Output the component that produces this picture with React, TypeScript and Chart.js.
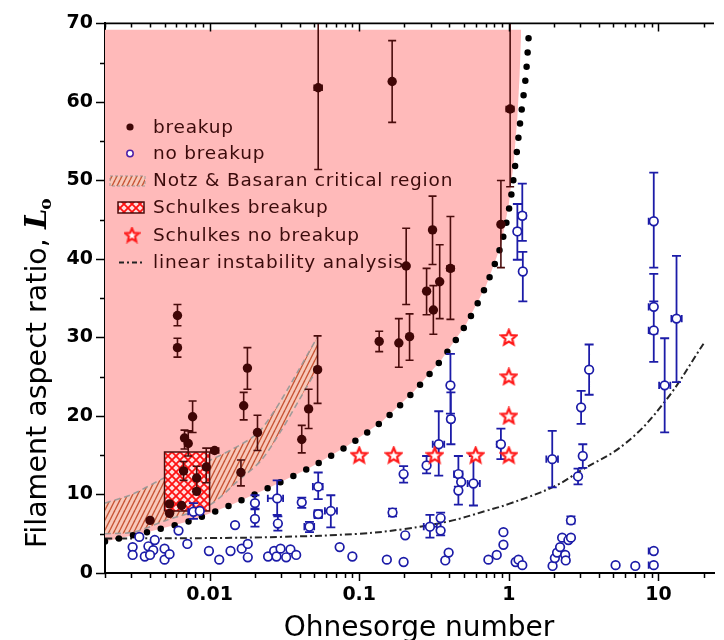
import React, { useEffect, useRef } from 'react';
import { Chart, registerables } from 'chart.js';

Chart.register(...registerables);

// ---------- axes ----------
const X_MIN = 0.002;
const X_MAX = 23.5;
const Y_MIN = 0;
const Y_MAX = 70;
const Y_STEP = 10;
const X_MAJOR_TICKS = [0.01, 0.1, 1, 10];
const X_TICK_LABELS = ['0.01', '0.1', '1', '10'];
const X_TITLE = 'Ohnesorge number';
const Y_TITLE = 'Filament aspect ratio, ';
const Y_TITLE_SYMBOL = 'L';
const Y_TITLE_SUB = 'o';

const LEGEND_LABELS = [
  'breakup',
  'no breakup',
  'Notz & Basaran critical region',
  'Schulkes breakup',
  'Schulkes no breakup',
  'linear instability analysis',
];

// ---------- breakup (filled) ----------
const breakupX = [0.0061, 0.0061, 0.0077, 0.0068, 0.0072, 0.0108, 0.0095, 0.0082, 0.0067, 0.0082, 0.0054, 0.0054, 0.0065, 0.0040, 0.0179, 0.0169, 0.0209, 0.0162, 0.0413, 0.0459, 0.0527, 0.136, 0.184, 0.217, 0.313, 0.206, 0.309, 0.282, 0.345, 0.407, 0.0532, 0.166, 1.02, 0.885];
const breakupY = [32.8, 28.7, 19.9, 17.2, 16.5, 15.6, 13.5, 12.1, 13.0, 10.4, 8.8, 7.6, 8.6, 6.7, 26.1, 21.3, 17.9, 12.8, 17.0, 20.9, 25.9, 29.5, 29.3, 30.1, 33.5, 39.1, 43.7, 35.9, 37.1, 38.8, 61.8, 62.6, 59.1, 44.4];
const breakupYLow = [31.5, 27.5, 17.9, 15.8, 14.9, null, 11.5, 10.7, 11.8, null, null, null, null, null, 23.4, 19.5, 15.6, 11.1, 15.3, 18.4, 21.6, 28.2, 26.2, 27.1, 30.4, 34.2, 39.3, 32.9, 32.4, 32.3, 51.4, 57.4, 49.2, 38.9];
const breakupYHigh = [34.2, 29.9, 21.9, 18.2, 18.1, null, 15.9, 13.6, 14.2, null, null, null, null, null, 28.7, 23.0, 20.1, 14.4, 18.8, 23.4, 30.2, 30.8, 32.4, 33.0, 36.6, 43.9, 48.0, 38.8, 41.8, 45.4, 72, 67.8, 72, 50.0];
const breakupXLow = [null, null, null, null, null, 0.0102, null, null, null, null, null, null, null, null, null, null, null, null, null, null, null, null, null, null, null, null, null, null, null, 0.385, 0.050, null, 0.96, null];
const breakupXHigh = [null, null, null, null, null, 0.0115, null, null, null, null, null, null, null, null, null, null, null, null, null, null, null, null, null, null, null, null, null, null, null, 0.43, 0.0565, null, 1.08, null];

// ---------- no breakup (open) with error bars ----------
const noBreakupErrX = [1.23, 1.14, 1.24, 9.3, 9.3, 9.3, 13.2, 11.0, 3.44, 3.04, 3.12, 2.90, 1.95, 0.885, 0.407, 0.41, 0.34, 0.282, 0.198, 0.46, 0.48, 0.46, 0.58, 0.0532, 0.0646, 0.0413, 0.0465, 0.0532, 0.297, 0.35, 0.35, 0.0201, 0.0201, 0.0283, 0.0286, 0.0078, 0.0086, 0.167, 0.203, 2.6, 9.3, 9.3];
const noBreakupErrY = [45.5, 43.5, 38.4, 44.8, 33.9, 30.9, 32.4, 23.9, 25.9, 21.1, 14.9, 12.3, 14.5, 16.4, 23.9, 19.6, 16.4, 13.7, 12.6, 12.6, 11.6, 10.5, 11.4, 11.0, 7.9, 9.0, 5.9, 7.5, 5.9, 7.0, 5.4, 8.9, 6.9, 9.5, 6.3, 7.8, 7.9, 7.7, 4.8, 6.7, 2.8, 1.0];
const noBreakupYLow = [42.3, 39.9, 34.6, 38.9, 30.5, 26.9, 24.3, 17.9, 22.7, 19.0, 13.4, 11.3, 10.9, 14.5, 20.3, 16.4, 12.4, 12.7, 11.5, 11.0, null, 8.7, 8.6, 9.4, 5.8, 8.3, 5.2, 7.0, 4.5, 4.8, null, 8.1, 5.9, 7.4, 5.4, 6.9, null, 7.2, null, 6.3, null, null];
const noBreakupYHigh = [49.6, 47.0, 40.9, 51.0, 38.1, 34.6, 40.4, 29.9, 29.1, 23.2, 16.4, 13.3, 18.1, 18.4, 27.9, 23.0, 20.6, 14.9, 13.6, 14.9, null, 12.2, 14.9, 12.8, 9.9, 9.6, 6.5, 8.0, 7.4, 7.7, null, 9.9, 8.2, 11.8, 7.2, 8.9, null, 8.2, null, 7.2, null, null];
const noBreakupXLow = [1.17, 1.09, null, 8.6, 8.6, 8.6, 12.2, 10.1, 3.3, null, null, null, 1.78, 0.83, 0.39, 0.39, 0.31, null, null, 0.43, null, null, 0.53, 0.049, 0.059, null, 0.043, 0.05, 0.27, null, null, null, null, 0.0245, null, 0.0072, null, null, null, null, 8.6, 8.6];
const noBreakupXHigh = [1.30, 1.19, null, 9.3, 9.3, 9.3, 14.3, 12.0, 3.6, null, null, null, 2.13, 0.89, 0.425, 0.43, 0.37, null, null, 0.49, null, null, 0.64, 0.057, 0.071, null, 0.050, 0.0565, 0.33, null, null, null, null, 0.031, null, 0.0085, null, null, null, null, 9.3, 9.3];

// ---------- no breakup (open) without error bars ----------
const noBreakupPlainX = [0.00339, 0.00306, 0.00306, 0.00369, 0.0039, 0.0043, 0.0042, 0.0040, 0.0050, 0.0050, 0.0054, 0.0062, 0.0071, 0.0099, 0.0116, 0.0138, 0.0148, 0.0164, 0.018, 0.018, 0.0246, 0.027, 0.028, 0.0298, 0.0325, 0.0347, 0.0379, 0.074, 0.090, 0.153, 0.198, 0.376, 0.396, 0.73, 0.83, 0.92, 0.92, 1.11, 1.16, 1.23, 1.96, 2.03, 2.1, 2.2, 2.27, 2.5, 2.6, 2.38, 2.4, 5.17, 7.0];
const noBreakupPlainY = [4.6, 3.3, 2.3, 2.1, 3.4, 4.2, 2.9, 2.3, 3.1, 1.7, 2.4, 5.4, 3.7, 2.8, 1.7, 2.8, 6.1, 3.1, 3.7, 2.0, 2.1, 2.8, 2.1, 3.1, 2.0, 3.0, 2.3, 3.3, 2.1, 1.7, 1.4, 1.6, 2.6, 1.7, 2.3, 3.6, 5.2, 1.4, 1.7, 1.0, 0.9, 1.9, 2.6, 3.3, 4.5, 4.2, 4.5, 2.3, 1.6, 1.0, 0.9];

// ---------- Schulkes no breakup (stars) ----------
const schulkesNoX = [0.1, 0.17, 0.32, 0.6, 1.0, 1.0, 1.0, 1.0];
const schulkesNoY = [15, 15, 15, 15, 15, 20, 25, 30];

// ---------- Schulkes breakup box ----------
const schulkesBoxX = [0.005, 0.01];
const schulkesBoxY = [7.9, 15.4];

// ---------- Notz & Basaran band ----------
const notzUpperX = [0.002, 0.0031, 0.0051, 0.0099, 0.020, 0.027, 0.039, 0.0527];
const notzUpperY = [8.9, 10.1, 12.2, 14.3, 17.5, 20.6, 25.7, 30.1];
const notzLowerX = [0.002, 0.0031, 0.0051, 0.0099, 0.0156, 0.022, 0.030, 0.041, 0.0527];
const notzLowerY = [5.0, 5.2, 6.7, 8.6, 11.8, 14.3, 18.1, 22.5, 26.1];

// ---------- breakup boundary (dotted) and shaded region ----------
const boundaryX = [0.002, 0.004, 0.0076, 0.014, 0.0258, 0.0467, 0.082, 0.142, 0.231, 0.355, 0.519, 0.704, 0.885, 1.016, 1.112, 1.20, 1.30, 1.37];
const boundaryY = [4.0, 5.3, 6.7, 8.7, 11.0, 13.4, 16.1, 19.3, 23.1, 27.2, 31.7, 36.6, 41.7, 47.0, 52.5, 58.0, 63.4, 69.6];
const regionX = [0.002, 0.004, 0.0076, 0.014, 0.0258, 0.0467, 0.082, 0.142, 0.231, 0.355, 0.519, 0.704, 0.885, 1.0, 1.08, 1.14, 1.18, 1.21];
const regionY = [4.0, 5.3, 6.7, 8.7, 11.0, 13.4, 16.1, 19.3, 23.1, 27.2, 31.7, 36.6, 41.7, 47.0, 52.5, 58.0, 63.4, 69.2];
const REGION_TOP = 69.2;

// ---------- linear instability analysis ----------
const linearX = [0.002, 0.01, 0.03, 0.1, 0.2, 0.4, 0.7, 1.0, 2.0, 3.0, 6.0, 11.0, 20.0];
const linearY = [4.4, 4.45, 4.6, 5.0, 5.6, 6.6, 7.9, 8.8, 11.0, 13.0, 16.5, 21.8, 29.2];

const toXY = (xs: number[], ys: number[]) => xs.map((x, i) => ({ x, y: ys[i] }));

const COLORS = {
  breakup: '#400606',
  breakupErr: '#4a0c0c',
  noBreakup: '#1c1ca8',
  pink: 'rgb(255,186,186)',
  legendText: '#3b0b0b',
  star: '#ff1a1a',
};

function makeHatch(): any {
  const c = document.createElement('canvas');
  c.width = 5;
  c.height = 10;
  const g = c.getContext('2d')!;
  g.fillStyle = 'rgb(248,200,186)';
  g.fillRect(0, 0, 5, 10);
  g.strokeStyle = 'rgb(200,84,52)';
  g.lineWidth = 1.4;
  for (const off of [-5, 0, 5]) {
    g.beginPath();
    g.moveTo(off, 10);
    g.lineTo(off + 5, 0);
    g.stroke();
  }
  return g.createPattern(c, 'repeat');
}

function makeCross(): any {
  const c = document.createElement('canvas');
  c.width = 8;
  c.height = 8;
  const g = c.getContext('2d')!;
  g.fillStyle = '#ffdede';
  g.fillRect(0, 0, 8, 8);
  g.strokeStyle = '#ff1212';
  g.lineWidth = 1.8;
  for (const off of [-8, 0, 8]) {
    g.beginPath();
    g.moveTo(off, 0);
    g.lineTo(off + 8, 8);
    g.moveTo(off, 8);
    g.lineTo(off + 8, 0);
    g.stroke();
  }
  return g.createPattern(c, 'repeat');
}

function makeStar(size: number): HTMLCanvasElement {
  const c = document.createElement('canvas');
  c.width = size;
  c.height = size;
  const g = c.getContext('2d')!;
  const cx = size / 2, cy = size / 2 + 0.5;
  const R = size * 0.42, r = R * 0.45;
  g.beginPath();
  for (let i = 0; i < 10; i++) {
    const a = -Math.PI / 2 + (i * Math.PI) / 5;
    const rad = i % 2 === 0 ? R : r;
    const px = cx + rad * Math.cos(a), py = cy + rad * Math.sin(a);
    if (i === 0) g.moveTo(px, py); else g.lineTo(px, py);
  }
  g.closePath();
  g.fillStyle = '#ffffff';
  g.fill();
  g.strokeStyle = COLORS.star;
  g.lineWidth = 2.2;
  g.lineJoin = 'miter';
  g.stroke();
  return c;
}

function drawErrorBars(chart: any, xs: number[], ys: number[], yLo: any[], yHi: any[], xLo: any[], xHi: any[], color: string, lw: number, cap: number) {
  const { ctx, chartArea, scales } = chart;
  const sx = scales.x, sy = scales.y;
  ctx.save();
  ctx.beginPath();
  ctx.rect(chartArea.left, chartArea.top, chartArea.right - chartArea.left, chartArea.bottom - chartArea.top);
  ctx.clip();
  ctx.strokeStyle = color;
  ctx.lineWidth = lw;
  ctx.beginPath();
  for (let i = 0; i < xs.length; i++) {
    const px = sx.getPixelForValue(xs[i]);
    const py = sy.getPixelForValue(ys[i]);
    if (yLo[i] != null && yHi[i] != null) {
      const a = sy.getPixelForValue(yLo[i]);
      const b = sy.getPixelForValue(yHi[i]);
      ctx.moveTo(px, a); ctx.lineTo(px, b);
      ctx.moveTo(px - cap, a); ctx.lineTo(px + cap, a);
      ctx.moveTo(px - cap, b); ctx.lineTo(px + cap, b);
    }
    if (xLo[i] != null && xHi[i] != null) {
      const a = sx.getPixelForValue(xLo[i]);
      const b = sx.getPixelForValue(xHi[i]);
      ctx.moveTo(a, py); ctx.lineTo(b, py);
      if (Math.abs(a - px) > 1) { ctx.moveTo(a, py - cap * 0.8); ctx.lineTo(a, py + cap * 0.8); }
      if (Math.abs(b - px) > 1) { ctx.moveTo(b, py - cap * 0.8); ctx.lineTo(b, py + cap * 0.8); }
    }
  }
  ctx.stroke();
  ctx.restore();
}

export default function App() {
  const ref = useRef<HTMLCanvasElement>(null);

  useEffect(() => {
    const canvas = ref.current;
    if (!canvas) return;
    const hatch = makeHatch();
    const cross = makeCross();
    const star = makeStar(19);
    const legendStar = makeStar(17);

    const decor = {
      id: 'decor',
      beforeDatasetDraw(chart: any, args: any) {
        const ds = chart.data.datasets[args.index];
        if (ds.label === LEGEND_LABELS[0]) {
          drawErrorBars(chart, breakupX, breakupY, breakupYLow, breakupYHigh, breakupXLow, breakupXHigh, COLORS.breakupErr, 1.6, 4);
        } else if (ds.label === LEGEND_LABELS[1]) {
          drawErrorBars(chart, noBreakupErrX, noBreakupErrY, noBreakupYLow, noBreakupYHigh, noBreakupXLow, noBreakupXHigh, COLORS.noBreakup, 1.8, 4.5);
        }
      },
      afterDatasetsDraw(chart: any) {
        const { ctx } = chart;
        // legend
        const rowsY = [127, 153.5, 180.5, 207.5, 235, 262.5];
        const textX = 153;
        ctx.save();
        ctx.font = '18.5px "DejaVu Sans"';
        ctx.fillStyle = COLORS.legendText;
        ctx.textBaseline = 'middle';
        ctx.textAlign = 'left';
        try { (ctx as any).letterSpacing = '0.8px'; } catch (e) {}
        LEGEND_LABELS.forEach((t, i) => ctx.fillText(t, textX, rowsY[i] + 1));
        try { (ctx as any).letterSpacing = '0px'; } catch (e) {}
        // markers
        ctx.fillStyle = COLORS.breakup;
        ctx.beginPath(); ctx.arc(130, rowsY[0], 3.6, 0, Math.PI * 2); ctx.fill();
        ctx.strokeStyle = '#4b1fa8'; ctx.lineWidth = 1.5; ctx.fillStyle = '#fff';
        ctx.beginPath(); ctx.arc(130, rowsY[1], 3.2, 0, Math.PI * 2); ctx.fill(); ctx.stroke();
        ctx.fillStyle = hatch; ctx.fillRect(110, 176, 35, 10);
        ctx.strokeStyle = 'rgba(150,150,150,0.9)'; ctx.lineWidth = 1; ctx.setLineDash([3, 2]);
        ctx.strokeRect(110, 176, 35, 10); ctx.setLineDash([]);
        ctx.fillStyle = cross; ctx.fillRect(118, 202, 26, 11);
        ctx.strokeStyle = '#4a0c0c'; ctx.lineWidth = 1.5; ctx.strokeRect(118, 202, 26, 11);
        ctx.drawImage(legendStar, 132 - legendStar.width / 2, rowsY[4] - legendStar.height / 2);
        ctx.strokeStyle = '#222'; ctx.lineWidth = 2; ctx.setLineDash([5, 3, 2, 3]);
        ctx.beginPath(); ctx.moveTo(119, rowsY[5]); ctx.lineTo(144, rowsY[5]); ctx.stroke();
        ctx.setLineDash([]);
        ctx.restore();
      },
      afterDraw(chart: any) {
        const { ctx, chartArea, scales } = chart;
        const sx = scales.x, sy = scales.y;
        ctx.save();
        ctx.strokeStyle = '#000';
        ctx.lineWidth = 1.6;
        // top axis line
        ctx.beginPath();
        ctx.moveTo(chartArea.left, chartArea.top);
        ctx.lineTo(chartArea.right, chartArea.top);
        ctx.stroke();
        ctx.lineWidth = 1.5;
        ctx.beginPath();
        for (let d = -3; d <= 1; d++) {
          for (let m = 1; m <= 9; m++) {
            const v = m * Math.pow(10, d);
            if (v < X_MIN || v > X_MAX) continue;
            const px = Math.round(sx.getPixelForValue(v)) + 0.5;
            const major = m === 1;
            ctx.moveTo(px, chartArea.bottom);
            ctx.lineTo(px, chartArea.bottom + (major ? 8 : 5));
            ctx.moveTo(px, chartArea.top);
            ctx.lineTo(px, chartArea.top + (major ? 8 : 4));
          }
        }
        for (let v = Y_MIN; v <= Y_MAX; v += 5) {
          const py = Math.round(sy.getPixelForValue(v)) + 0.5;
          const major = v % 10 === 0;
          ctx.moveTo(chartArea.left, py);
          ctx.lineTo(chartArea.left - (major ? 9 : 5), py);
        }
        ctx.stroke();

        // axis titles
        ctx.fillStyle = '#000';
        ctx.font = '28px "DejaVu Sans"';
        ctx.textAlign = 'center';
        ctx.textBaseline = 'alphabetic';
        ctx.fillText(X_TITLE, 419, 636);

        ctx.translate(46, 548);
        ctx.rotate(-Math.PI / 2);
        ctx.textAlign = 'left';
        ctx.font = '28.5px "DejaVu Sans"';
        ctx.fillText(Y_TITLE, 0, 0);
        const w = ctx.measureText(Y_TITLE).width;
        ctx.font = 'italic bold 29px "DejaVu Serif"';
        ctx.fillText(Y_TITLE_SYMBOL, w, 0);
        const wl = ctx.measureText(Y_TITLE_SYMBOL).width;
        ctx.font = 'bold 17px "DejaVu Serif"';
        ctx.fillText(Y_TITLE_SUB, w + wl - 1, 5);
        ctx.restore();
      },
    };

    const lineBase = { showLine: true, pointRadius: 0, pointHoverRadius: 0 };

    const chart = new Chart(canvas, {
      type: 'scatter',
      data: {
        datasets: [
          {
            ...lineBase,
            label: 'region',
            data: toXY(regionX, regionY),
            borderColor: 'transparent',
            borderWidth: 0,
            backgroundColor: COLORS.pink,
            fill: { value: REGION_TOP },
            order: 100,
          } as any,
          {
            ...lineBase,
            label: 'notzUpper',
            data: toXY(notzUpperX, notzUpperY),
            borderColor: 'rgba(150,150,150,0.9)',
            borderWidth: 1.6,
            borderDash: [6, 4],
            backgroundColor: hatch,
            fill: '+1',
            tension: 0.3,
            order: 90,
          } as any,
          {
            ...lineBase,
            label: 'notzLower',
            data: toXY(notzLowerX, notzLowerY),
            borderColor: 'rgba(150,150,150,0.9)',
            borderWidth: 1.6,
            borderDash: [6, 4],
            fill: false,
            tension: 0.3,
            order: 89,
          } as any,
          {
            ...lineBase,
            label: 'schulkesBoxFill',
            data: [
              { x: schulkesBoxX[0], y: schulkesBoxY[1] },
              { x: schulkesBoxX[1], y: schulkesBoxY[1] },
            ],
            borderColor: 'transparent',
            borderWidth: 0,
            backgroundColor: cross,
            fill: { value: schulkesBoxY[0] },
            order: 80,
          } as any,
          {
            ...lineBase,
            label: 'schulkesBoxEdge',
            data: [
              { x: schulkesBoxX[0], y: schulkesBoxY[0] },
              { x: schulkesBoxX[0], y: schulkesBoxY[1] },
              { x: schulkesBoxX[1], y: schulkesBoxY[1] },
              { x: schulkesBoxX[1], y: schulkesBoxY[0] },
              { x: schulkesBoxX[0], y: schulkesBoxY[0] },
            ],
            borderColor: '#4a0c0c',
            borderWidth: 1.5,
            fill: false,
            order: 79,
          } as any,
          {
            ...lineBase,
            label: 'linear',
            data: toXY(linearX, linearY),
            borderColor: '#262626',
            borderWidth: 2,
            borderDash: [7, 3, 2, 3],
            fill: false,
            tension: 0.4,
            order: 70,
          } as any,
          {
            ...lineBase,
            label: 'boundary',
            data: toXY(boundaryX, boundaryY),
            borderColor: '#000',
            borderWidth: 6.5,
            borderDash: [0, 14.3],
            borderCapStyle: 'round',
            fill: false,
            tension: 0.3,
            order: 60,
          } as any,
          {
            label: LEGEND_LABELS[1],
            data: [...toXY(noBreakupErrX, noBreakupErrY), ...toXY(noBreakupPlainX, noBreakupPlainY)],
            pointRadius: 4.3,
            pointBorderWidth: 1.7,
            pointBackgroundColor: '#ffffff',
            pointBorderColor: COLORS.noBreakup,
            order: 30,
          } as any,
          {
            label: LEGEND_LABELS[0],
            data: toXY(breakupX, breakupY),
            pointRadius: 4.7,
            pointBorderWidth: 0,
            pointBackgroundColor: COLORS.breakup,
            pointBorderColor: COLORS.breakup,
            order: 20,
          } as any,
          {
            label: LEGEND_LABELS[4],
            data: toXY(schulkesNoX, schulkesNoY),
            pointStyle: star,
            pointRadius: 9,
            order: 10,
          } as any,
        ],
      },
      options: {
        animation: false,
        responsive: false,
        maintainAspectRatio: false,
        events: [],
        layout: { padding: { top: 20, right: 4, left: 0, bottom: 0 } },
        plugins: {
          legend: { display: false },
          tooltip: { enabled: false },
          title: { display: false },
        },
        scales: {
          x: {
            type: 'logarithmic',
            min: X_MIN,
            max: X_MAX,
            afterFit: (s: any) => { s.height = 67; },
            afterBuildTicks: (s: any) => { s.ticks = X_MAJOR_TICKS.map((v) => ({ value: v, major: true })); },
            ticks: {
              autoSkip: false,
              maxRotation: 0,
              padding: 11,
              color: '#000',
              font: { family: 'DejaVu Sans', size: 19, weight: 'bold' },
              callback: (v: any) => {
                const i = X_MAJOR_TICKS.indexOf(Number(v));
                return i >= 0 ? X_TICK_LABELS[i] : '';
              },
            },
            grid: { display: false, drawTicks: false },
            border: { display: true, color: '#000', width: 2 },
          },
          y: {
            type: 'linear',
            min: Y_MIN,
            max: Y_MAX,
            afterFit: (s: any) => { s.width = 105; },
            ticks: {
              stepSize: Y_STEP,
              padding: 12,
              color: '#000',
              font: { family: 'DejaVu Sans', size: 19, weight: 'bold' },
            },
            grid: { display: false, drawTicks: false },
            border: { display: true, color: '#000', width: 2 },
          },
        },
      } as any,
      plugins: [decor],
    });

    return () => chart.destroy();
  }, []);

  return (
    <div style={{ position: 'absolute', left: 0, top: 0, width: 724, height: 640, background: '#fff' }}>
      <canvas ref={ref} width={724} height={640} style={{ width: 724, height: 640, display: 'block' }} />
    </div>
  );
}
